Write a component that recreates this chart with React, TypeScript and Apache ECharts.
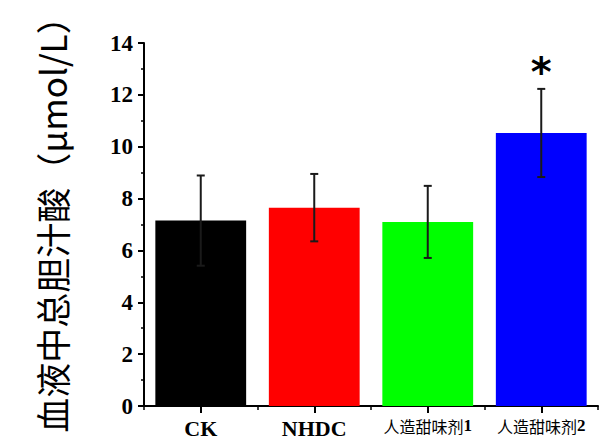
import React, { useEffect, useRef } from "react";
import * as echarts from "echarts";

const categories = ["CK", "NHDC", "人造甜味剂1", "人造甜味剂2"];
const means = [7.15, 7.65, 7.1, 10.53];
const errors = [1.74, 1.3, 1.39, 1.7];
const significance = ["", "", "", "*"];
const barColors = ["#000000", "#ff0000", "#00ff00", "#0000ff"];
const yTitle = "血液中总胆汁酸（μmol/L）";

const SERIF = "Liberation Serif";

export default function App() {
  const ref = useRef<HTMLDivElement>(null);
  useEffect(() => {
    if (!ref.current) return;
    const chart = echarts.init(ref.current, null, { renderer: "svg" });
    const errData = means.map((m, i) => [i, m, errors[i]]);
    chart.setOption({
      animation: false,
      backgroundColor: "#ffffff",
      grid: { left: 144, right: 5, top: 43, bottom: 32, containLabel: false },
      xAxis: [
        {
          type: "category",
          data: categories,
          axisLine: { show: true, lineStyle: { color: "#000", width: 2 } },
          axisTick: { show: true, alignWithLabel: true, length: 7, lineStyle: { color: "#000", width: 2 } },
          axisLabel: {
            margin: 11,
            interval: 0,
            formatter: (v: string) => (/^[A-Za-z]+$/.test(v) ? `{en|${v}}` : `{zh|${v.slice(0, -1)}}{num|${v.slice(-1)}}`),
            rich: {
              en: { fontFamily: SERIF, fontWeight: "bold", fontSize: 22, color: "#000" },
              zh: { fontFamily: "Noto Sans CJK SC", fontWeight: "normal", fontSize: 16, color: "#000" },
              num: { fontFamily: SERIF, fontWeight: "bold", fontSize: 17, color: "#000" },
            },
          },
        },
        {
          type: "category",
          data: categories,
          position: "bottom",
          axisLine: { show: false },
          axisTick: { show: true, length: 4, lineStyle: { color: "#000", width: 1.5 } },
          axisLabel: { show: false },
        },
      ],
      yAxis: [
        {
          type: "value",
          min: 0,
          max: 14,
          interval: 2,
          axisLine: { show: true, lineStyle: { color: "#000", width: 2 } },
          axisTick: { show: true, length: 6, lineStyle: { color: "#000", width: 2 } },
          minorTick: { show: true, splitNumber: 2, length: 3, lineStyle: { color: "#000", width: 1.5 } },
          splitLine: { show: false },
          axisLabel: {
            show: true,
            margin: 11,
            color: "#000000",
            fontFamily: SERIF,
            fontWeight: "bold",
            fontSize: 23,
          },
        },
      ],
      graphic: [
        {
          type: "text",
          x: 51,
          y: 216,
          rotation: Math.PI / 2,
          style: {
            text: yTitle,
            fontFamily: "Noto Sans CJK SC",
            fontWeight: "normal",
            fontSize: 35,
            fill: "#000",
            align: "center",
            verticalAlign: "middle",
          },
        },
      ],
      series: [
        {
          type: "bar",
          xAxisIndex: 0,
          yAxisIndex: 0,
          barCategoryGap: "20%",
          data: means.map((m, i) => ({ value: m, itemStyle: { color: barColors[i] } })),
        },
        {
          type: "custom",
          xAxisIndex: 0,
          yAxisIndex: 0,
          data: errData,
          z: 10,
          renderItem: (params: any, api: any) => {
            const x = api.value(0);
            const m = api.value(1);
            const e = api.value(2);
            const sig = significance[params.dataIndex];
            const top = api.coord([x, m + e]);
            const bot = api.coord([x, m - e]);
            const cap = 4;
            const style = { stroke: "#1a1a1a", lineWidth: 2 };
            const children: any[] = [
              { type: "line", shape: { x1: top[0], y1: top[1], x2: bot[0], y2: bot[1] }, style },
              { type: "line", shape: { x1: top[0] - cap, y1: top[1], x2: top[0] + cap, y2: top[1] }, style },
              { type: "line", shape: { x1: bot[0] - cap, y1: bot[1], x2: bot[0] + cap, y2: bot[1] }, style },
            ];
            if (sig) {
              children.push({
                type: "text",
                x: top[0],
                y: top[1] + 3,
                style: {
                  text: sig,
                  fontFamily: "DejaVu Sans",
                  fontWeight: "bold",
                  fontSize: 40,
                  fill: "#000",
                  align: "center",
                  verticalAlign: "bottom",
                },
              });
            }
            return { type: "group", children };
          },
        },
      ],
    });
    return () => chart.dispose();
  }, []);
  return <div ref={ref} style={{ width: 603, height: 439, position: "absolute", left: 0, top: 0 }} />;
}
